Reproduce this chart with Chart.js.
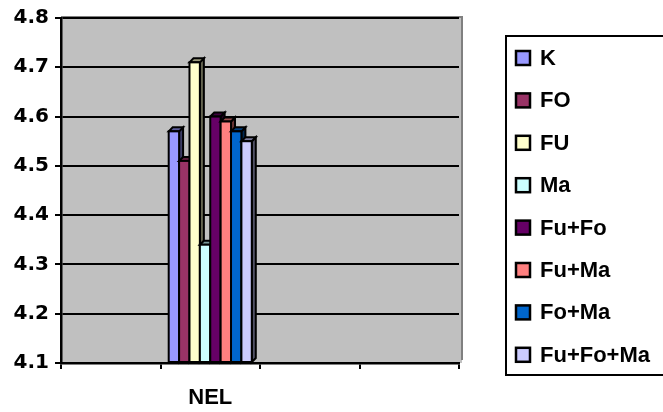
<!DOCTYPE html>
<html lang="en">
<head>
    <meta charset="UTF-8">
    <title>NEL</title>
    <script src="https://cdn.jsdelivr.net/npm/chart.js"></script>
    <style>
        body { margin: 0; background: #fff; }
        #wrap { width: 663px; height: 412px; position: relative; }
    </style>
</head>
<body>
    <div id="wrap">
        <canvas id="nelChart"></canvas>
    </div>

    <script>
        // Categories on the x axis (only the second slot carries data)
        const categories = ['', 'NEL', '', ''];

        // One series per treatment group
        const seriesNames = ['K', 'FO', 'FU', 'Ma', 'Fu+Fo', 'Fu+Ma', 'Fo+Ma', 'Fu+Fo+Ma'];
        const seriesValues = [4.57, 4.51, 4.71, 4.34, 4.60, 4.59, 4.57, 4.55];
        const seriesColors = ['#9999FF', '#993366', '#FFFFCC', '#CCFFFF', '#660066', '#FF8080', '#0066CC', '#CCCCFF'];

        // Value axis range
        const yMin = 4.1;
        const yMax = 4.8;
        const yStep = 0.1;

        const TICK_FONT = 'DejaVu Sans';
        const TEXT_FONT = 'Liberation Sans';
        const DEPTH = 4;

        function shade(hex, f) {
            const n = parseInt(hex.slice(1), 16);
            const r = Math.round(((n >> 16) & 255) * f);
            const g = Math.round(((n >> 8) & 255) * f);
            const b = Math.round((n & 255) * f);
            return `rgb(${r},${g},${b})`;
        }

        // Gray back wall behind the plot
        const walls = {
            id: 'walls',
            beforeDraw(chart) {
                const { ctx, chartArea: a } = chart;
                ctx.save();
                ctx.fillStyle = '#c0c0c0';
                ctx.fillRect(a.left, a.top - 1, a.right - a.left + 3, a.bottom - a.top + 1);
                ctx.strokeStyle = '#808080';
                ctx.lineWidth = 2;
                ctx.beginPath();
                ctx.moveTo(a.left, a.top - 1);
                ctx.lineTo(a.right + 3, a.top - 1);
                ctx.lineTo(a.right + 3, a.bottom - 3);
                ctx.stroke();
                ctx.restore();
            }
        };

        // Redraw each bar left to right with a side and top face
        const bars3d = {
            id: 'bars3d',
            afterDatasetsDraw(chart) {
                const { ctx } = chart;
                ctx.save();
                ctx.lineWidth = 2;
                ctx.strokeStyle = '#000';
                chart.data.datasets.forEach((ds, i) => {
                    const meta = chart.getDatasetMeta(i);
                    meta.data.forEach((el, j) => {
                        if (ds.data[j] == null) return;
                        const p = el.getProps(['x', 'y', 'base', 'width'], true);
                        const l = p.x - p.width / 2, r = p.x + p.width / 2;
                        const t = p.y, b = p.base;
                        const col = seriesColors[i];
                        // side face
                        ctx.fillStyle = shade(col, 0.4);
                        ctx.beginPath();
                        ctx.moveTo(r, t);
                        ctx.lineTo(r + DEPTH, t - DEPTH);
                        ctx.lineTo(r + DEPTH, b - DEPTH);
                        ctx.lineTo(r, b);
                        ctx.closePath();
                        ctx.fill();
                        ctx.stroke();
                        // top face
                        ctx.fillStyle = shade(col, 0.6);
                        ctx.beginPath();
                        ctx.moveTo(l, t);
                        ctx.lineTo(l + DEPTH, t - DEPTH);
                        ctx.lineTo(r + DEPTH, t - DEPTH);
                        ctx.lineTo(r, t);
                        ctx.closePath();
                        ctx.fill();
                        ctx.stroke();
                        // front face
                        ctx.fillStyle = col;
                        ctx.fillRect(l, t, r - l, b - t);
                        ctx.strokeRect(l, t, r - l, b - t);
                    });
                });
                ctx.restore();
            }
        };

        // Boxed legend on the right
        const boxLegend = {
            id: 'boxLegend',
            afterDraw(chart) {
                const { ctx } = chart;
                const bx = 506, by = 36, bw = 160, bh = 339;
                ctx.save();
                ctx.fillStyle = '#fff';
                ctx.fillRect(bx, by, bw, bh);
                ctx.strokeStyle = '#000';
                ctx.lineWidth = 2;
                ctx.strokeRect(bx, by, bw, bh);
                ctx.font = `bold 22px ${TEXT_FONT}`;
                ctx.textBaseline = 'middle';
                ctx.lineWidth = 2.5;
                chart.data.datasets.forEach((ds, i) => {
                    const cy = 58 + i * 42.4;
                    ctx.fillStyle = seriesColors[i];
                    ctx.fillRect(516, cy - 7, 14, 14);
                    ctx.strokeRect(516, cy - 7, 14, 14);
                    ctx.fillStyle = '#000';
                    ctx.fillText(ds.label, 540, cy + 1);
                });
                ctx.restore();
            }
        };

        const datasets = seriesNames.map((name, i) => ({
            label: name,
            data: categories.map(c => (c === 'NEL' ? seriesValues[i] : null)),
            base: yMin,
            backgroundColor: seriesColors[i],
            borderColor: '#000',
            borderWidth: 2,
            barPercentage: 1,
            categoryPercentage: 0.835
        }));

        const ctx = document.getElementById('nelChart').getContext('2d');
        const nelChart = new Chart(ctx, {
            type: 'bar',
            data: { labels: categories, datasets: datasets },
            options: {
                responsive: true,
                maintainAspectRatio: false,
                animation: false,
                layout: { padding: { top: 15, right: 204, left: 0, bottom: 0 } },
                scales: {
                    x: {
                        offset: true,
                        grid: {
                            offset: true,
                            drawOnChartArea: false,
                            color: '#000',
                            lineWidth: 2,
                            tickLength: 6
                        },
                        border: { color: '#000', width: 2.5 },
                        ticks: {
                            color: '#000',
                            padding: 16,
                            autoSkip: false,
                            maxRotation: 0,
                            font: { family: TEXT_FONT, size: 22, weight: 'bold' }
                        },
                        afterFit(s) { s.height = 49; }
                    },
                    y: {
                        min: yMin,
                        max: yMax,
                        ticks: {
                            stepSize: yStep,
                            color: '#000',
                            padding: 6,
                            font: { family: TICK_FONT, size: 20, weight: 'bold' },
                            callback: v => v.toFixed(1)
                        },
                        grid: {
                            color: '#000',
                            lineWidth: 2,
                            tickLength: 6,
                            tickColor: '#000'
                        },
                        border: { color: '#000', width: 2.5 },
                        afterFit(s) { s.width = 61; }
                    }
                },
                plugins: {
                    legend: { display: false },
                    tooltip: { enabled: false }
                }
            },
            plugins: [walls, bars3d, boxLegend]
        });
    </script>
</body>
</html>
